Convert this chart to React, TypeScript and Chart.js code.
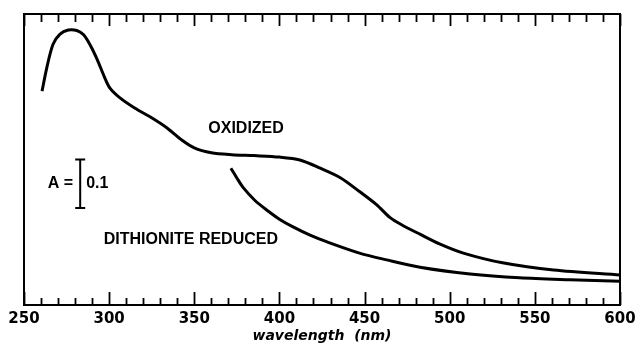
import React, { useEffect, useRef } from "react";
import { Chart, registerables } from "chart.js";

Chart.register(...registerables);

// Oxidized spectrum (wavelength nm, absorbance)
const oxidizedNm = [260.6, 263.5, 267, 271, 276, 281, 285, 289, 293, 297, 300.5, 306, 315, 324, 334, 342, 350, 360, 372, 385, 400, 412, 424, 436, 447, 457, 465, 472, 482.5, 494, 508, 531, 561, 600];
const oxidizedA = [0.441, 0.491, 0.537, 0.558, 0.567, 0.566, 0.557, 0.535, 0.506, 0.472, 0.447, 0.428, 0.406, 0.388, 0.365, 0.342, 0.324, 0.314, 0.310, 0.308, 0.305, 0.299, 0.282, 0.262, 0.234, 0.207, 0.180, 0.165, 0.146, 0.126, 0.107, 0.087, 0.072, 0.062];

// Dithionite reduced spectrum
const reducedNm = [371.5, 375, 378.5, 385.5, 392.5, 400, 408, 418, 428, 447, 463, 482.5, 512, 541, 570.5, 600];
const reducedA = [0.282, 0.262, 0.243, 0.216, 0.196, 0.177, 0.161, 0.144, 0.130, 0.107, 0.093, 0.078, 0.064, 0.056, 0.052, 0.049];

const xTickLabels = [250, 300, 350, 400, 450, 500, 550, 600];
const xMin = 250;
const xMax = 600;
const minorStep = 10;
const yMin = 0;
const yMax = 0.6;

const curveLabels = ["OXIDIZED", "DITHIONITE REDUCED"];
const scaleBarLabel = ["A =", "0.1"];
const axisTitle = "wavelength  (nm)";

const framePlugin = {
  id: "frame",
  afterDatasetsDraw(chart: any) {
    const { ctx, chartArea, scales } = chart;
    const { left, top, right, bottom } = chartArea;
    const x = scales.x;
    const y = scales.y;
    ctx.save();
    ctx.strokeStyle = "#000";
    ctx.fillStyle = "#000";
    ctx.lineWidth = 2;
    ctx.strokeRect(left, top, right - left, bottom - top);
    ctx.lineWidth = 1.8;
    for (let v = xMin; v <= xMax; v += minorStep) {
      const px = Math.round(x.getPixelForValue(v)) + 0.5;
      const major = v % 50 === 0;
      ctx.beginPath();
      ctx.moveTo(px, bottom);
      ctx.lineTo(px, bottom - (major ? 13 : 7));
      ctx.moveTo(px, top);
      ctx.lineTo(px, top + (major ? 12 : 8));
      ctx.stroke();
    }
    // scale bar A = 0.1
    const bx = x.getPixelForValue(283);
    const b0 = y.getPixelForValue(0.2);
    const b1 = y.getPixelForValue(0.3);
    ctx.lineWidth = 2;
    ctx.beginPath();
    ctx.moveTo(bx, b0);
    ctx.lineTo(bx, b1);
    ctx.moveTo(bx - 5, b0);
    ctx.lineTo(bx + 5, b0);
    ctx.moveTo(bx - 5, b1);
    ctx.lineTo(bx + 5, b1);
    ctx.stroke();

    ctx.textBaseline = "middle";
    ctx.font = "bold 16px 'Liberation Sans'";
    ctx.textAlign = "right";
    ctx.fillText(scaleBarLabel[0], bx - 7, y.getPixelForValue(0.25));
    ctx.textAlign = "left";
    ctx.fillText(scaleBarLabel[1], bx + 6, y.getPixelForValue(0.25));

    ctx.font = "bold 16px 'Liberation Sans'";
    ctx.textAlign = "center";
    ctx.fillText(curveLabels[0], x.getPixelForValue(380.4), y.getPixelForValue(0.363));
    ctx.fillText(curveLabels[1], x.getPixelForValue(348), y.getPixelForValue(0.134));
    ctx.restore();
  },
};

export default function App() {
  const ref = useRef<HTMLCanvasElement>(null);
  useEffect(() => {
    if (!ref.current) return;
    const chart = new Chart(ref.current, {
      type: "line",
      data: {
        datasets: [
          {
            label: curveLabels[0],
            data: oxidizedNm.map((v, i) => ({ x: v, y: oxidizedA[i] })),
            borderColor: "#000",
            borderWidth: 3,
            pointRadius: 0,
            tension: 0.3,
            fill: false,
          },
          {
            label: curveLabels[1],
            data: reducedNm.map((v, i) => ({ x: v, y: reducedA[i] })),
            borderColor: "#000",
            borderWidth: 3,
            pointRadius: 0,
            tension: 0.3,
            fill: false,
          },
        ],
      },
      options: {
        animation: false,
        responsive: false,
        maintainAspectRatio: false,
        layout: { padding: { left: 24, right: 24, top: 14, bottom: 0 } },
        plugins: {
          legend: { display: false },
          tooltip: { enabled: false },
        },
        scales: {
          x: {
            type: "linear",
            min: xMin,
            max: xMax,
            grid: { display: false, drawTicks: false },
            border: { display: false },
            afterFit: (scale: any) => {
              scale.height = 47;
            },
            ticks: {
              stepSize: minorStep,
              autoSkip: false,
              maxRotation: 0,
              padding: 5,
              color: "#000",
              font: { family: "'DejaVu Sans'", size: 15, weight: "bold" },
              callback: (v: any) => (xTickLabels.includes(Number(v)) ? String(v) : ""),
            },
            title: {
              display: true,
              text: axisTitle,
              color: "#000",
              font: { family: "'DejaVu Sans'", size: 14, weight: "bold", style: "italic" },
              padding: { top: 0, bottom: 7 },
            },
          },
          y: {
            type: "linear",
            min: yMin,
            max: yMax,
            display: false,
          },
        },
      },
      plugins: [framePlugin],
    });
    return () => chart.destroy();
  }, []);
  return (
    <div style={{ position: "fixed", left: 0, top: 0, width: 644, height: 352, background: "#fff" }}>
      <canvas ref={ref} width={644} height={352} />
    </div>
  );
}
